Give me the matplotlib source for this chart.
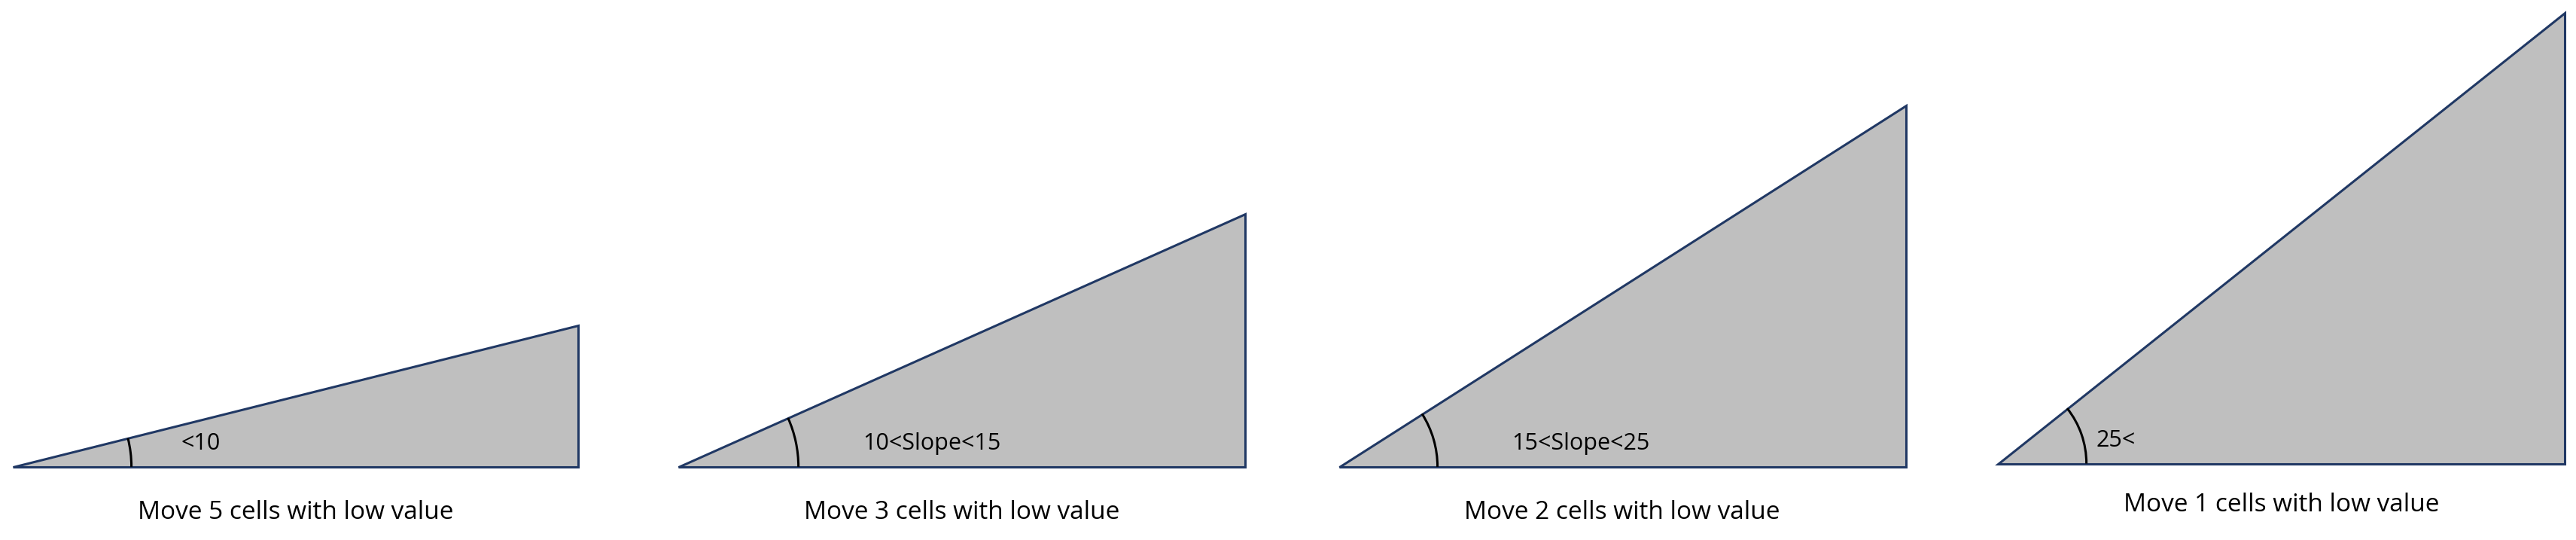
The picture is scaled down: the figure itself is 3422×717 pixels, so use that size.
import matplotlib
matplotlib.use("Agg")
import matplotlib.pyplot as plt
import numpy as np
from matplotlib.patches import Polygon, Arc

# triangle geometry in reference pixel units (1568 x 328 view)
left_x = [8, 413, 815, 1216]
base_y = [284, 284, 284, 282]
width = [344, 345, 345, 345]
height = [86, 154, 220, 274]
arc_r = [72, 73, 60, 54]
labels = ['<10', '10<Slope<15', '15<Slope<25', '25<']
label_x = [110, 525, 920, 1276]
captions = ['Move 5 cells with low value', 'Move 3 cells with low value',
            'Move 2 cells with low value', 'Move 1 cells with low value']
caption_y = [312, 312, 312, 307]

fig = plt.figure(figsize=(34.22, 7.17), dpi=100)
ax = fig.add_axes([0, 0, 1, 1])
ax.set_xlim(0, 1568)
ax.set_ylim(328.5, 0)
ax.set_aspect('auto')
ax.axis('off')

for i in range(4):
    x0, y0, w, h = left_x[i], base_y[i], width[i], height[i]
    ax.add_patch(Polygon([(x0, y0), (x0 + w, y0), (x0 + w, y0 - h)], closed=True,
                         facecolor='#bfbfbf', edgecolor='#203864', linewidth=2.2))
    ang = np.degrees(np.arctan2(h, w))
    r = arc_r[i]
    ax.add_patch(Arc((x0, y0), 2 * r, 2 * r, theta1=-ang, theta2=0,
                     color='black', linewidth=2.2))
    ax.text(label_x[i], y0 - 14, labels[i], fontsize=22, family='Open Sans',
            ha='left', va='center')
    ax.text(x0 + w / 2, caption_y[i], captions[i], fontsize=24, family='Open Sans',
            ha='center', va='center')

fig.savefig('out.png', dpi=100)
